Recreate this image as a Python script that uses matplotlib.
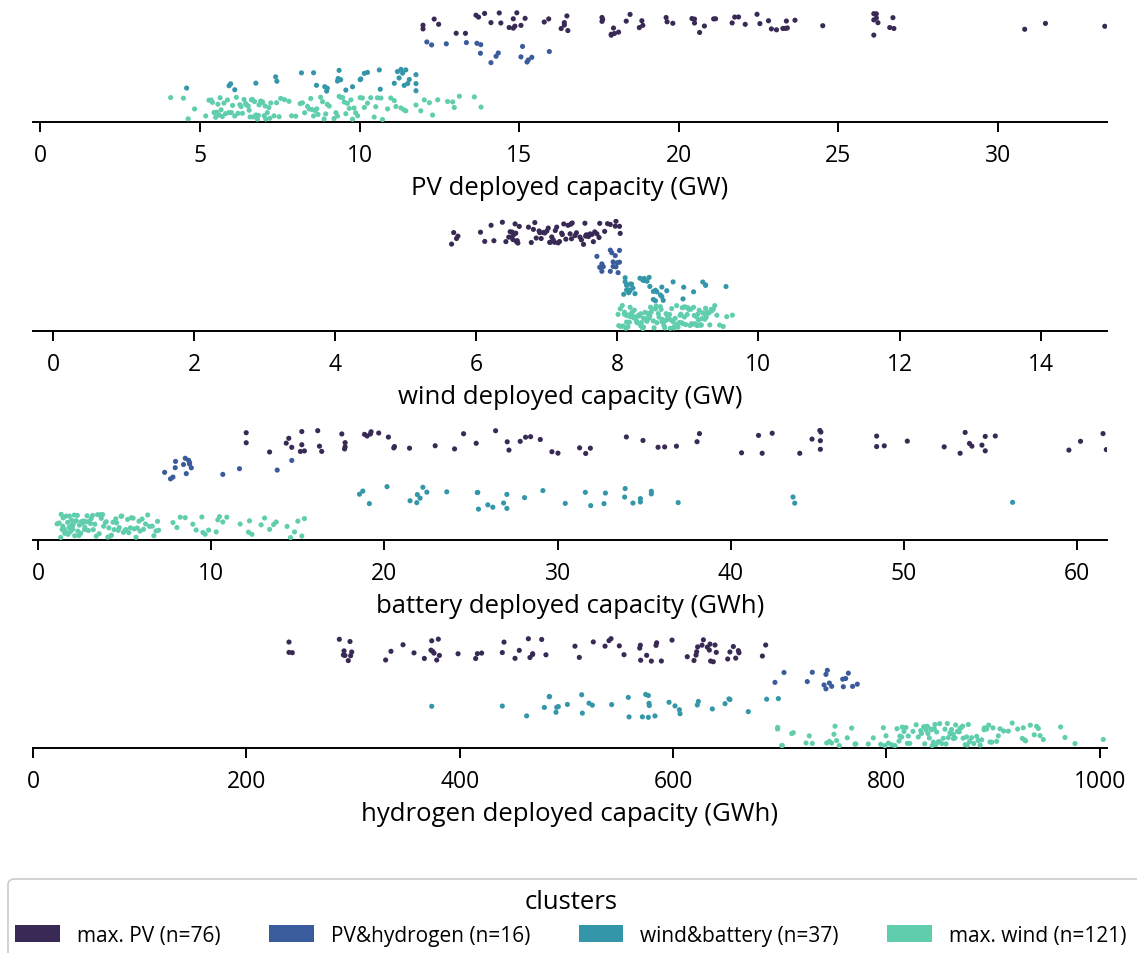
import numpy as np
import pandas as pd
import matplotlib
matplotlib.use("Agg")
import matplotlib.pyplot as plt
from matplotlib.patches import Patch, FancyBboxPatch
import seaborn as sns

# ---- cluster definitions ----
clusters = ["max. PV", "PV&hydrogen", "wind&battery", "max. wind"]
cluster_colors = ["#382a54", "#3b5c9c", "#3497a9", "#60ceac"]

# ---- PV deployed capacity (GW) ----
pv_max_pv = [11.99, 11.99, 12.34, 12.48, 13.03, 13.32, 13.65, 13.73, 13.92, 14.12,
             14.38, 14.43, 14.69, 14.82, 14.82, 14.87, 14.93, 15.06, 15.19, 15.79,
             15.93, 16.32, 16.42, 16.50, 16.42, 16.53, 17.62, 17.60, 17.60, 17.89,
             17.89, 17.96, 17.99, 18.12, 18.36, 18.48, 18.77, 18.88, 18.85, 19.61,
             19.64, 19.82, 20.42, 20.50, 20.50, 20.66, 20.81, 21.10, 21.16, 21.68,
             21.76, 21.88, 22.09, 22.46, 22.55, 22.82, 22.91, 23.07, 23.27, 23.35,
             23.38, 23.41, 23.65, 24.52, 26.12, 26.25, 26.12, 26.20, 26.12, 26.72,
             26.75, 26.62, 30.85, 31.50, 33.36, 26.20]
pv_pv_h2 = [12.11, 12.26, 12.72, 13.35, 13.68, 13.79, 13.80, 14.12, 14.28, 14.35,
            15.06, 15.11, 15.25, 15.29, 15.40, 15.95]
pv_wind_batt = [4.58, 5.91, 5.96, 6.09, 6.75, 7.37, 7.41, 8.18, 8.56, 8.65,
                8.91, 8.97, 8.99, 9.31, 9.36, 9.41, 9.57, 9.78, 10.02, 10.04,
                10.15, 10.25, 10.62, 10.65, 11.09, 11.19, 11.24, 11.30, 11.35, 11.40,
                11.51, 11.56, 11.77, 11.77, 11.77, 9.33, 11.45]
pv_max_wind = [4.08, 4.48, 4.63, 4.83, 5.18, 5.28, 5.39, 5.44, 5.49, 5.56,
               5.63, 5.70, 5.75, 5.80, 5.86, 5.98, 6.09, 6.19, 6.25, 6.33,
               6.38, 6.43, 6.51, 6.57, 6.61, 6.67, 6.75, 6.80, 6.85, 6.90,
               6.96, 7.01, 7.06, 7.11, 7.16, 7.22, 7.32, 7.48, 7.53, 7.79,
               7.87, 8.00, 8.14, 8.21, 8.37, 8.42, 8.47, 8.56, 8.66, 8.70,
               8.84, 8.89, 8.94, 8.99, 9.20, 9.26, 9.31, 9.41, 9.47, 9.57,
               9.62, 9.68, 9.73, 9.78, 9.83, 9.94, 10.09, 10.15, 10.35, 10.46,
               10.51, 10.56, 10.67, 10.88, 10.98, 11.09, 11.14, 11.30, 11.40, 11.45,
               11.77, 11.92, 12.03, 12.19, 12.29, 12.45, 12.76, 12.92, 12.97, 13.13,
               13.60, 13.81, 5.35, 5.52, 5.60, 5.66, 5.90, 6.02, 6.14, 6.29,
               6.46, 6.54, 6.64, 6.71, 6.83, 6.93, 7.04, 7.19, 7.40, 7.65,
               8.28, 8.51, 8.61, 8.78, 9.05, 9.36, 9.52, 9.88, 10.02, 10.25,
               10.72]

# ---- wind deployed capacity (GW) ----
wind_max_pv = [5.65, 5.68, 5.72, 5.74, 6.06, 6.12, 6.21, 6.25, 6.37, 6.42,
               6.46, 6.48, 6.50, 6.51, 6.52, 6.55, 6.56, 6.57, 6.59, 6.61,
               6.74, 6.78, 6.81, 6.83, 6.85, 6.89, 6.92, 6.95, 6.97, 7.00,
               7.02, 7.04, 7.07, 7.09, 7.11, 7.14, 7.16, 7.18, 7.21, 7.22,
               7.24, 7.27, 7.30, 7.33, 7.34, 7.36, 7.40, 7.42, 7.47, 7.49,
               7.52, 7.54, 7.55, 7.56, 7.59, 7.61, 7.64, 7.66, 7.68, 7.71,
               7.74, 7.75, 7.82, 7.86, 7.90, 7.98, 7.97, 8.03, 8.04, 6.53,
               6.58, 6.90, 7.05, 7.12, 7.35, 7.62]
wind_pv_h2 = [7.78, 7.97, 7.78, 7.75, 7.92, 7.94, 8.01, 8.03, 7.71, 7.80,
              7.90, 7.98, 8.00, 7.94, 8.03, 7.90]
wind_wind_batt = [8.13, 8.18, 8.38, 8.54, 8.63, 8.65, 8.51, 8.38, 8.32, 8.36,
                  8.11, 8.09, 8.13, 8.16, 8.22, 8.45, 8.46, 8.54, 8.63, 8.70,
                  8.79, 8.93, 8.94, 9.08, 9.21, 9.25, 9.25, 9.54, 8.11, 8.16,
                  8.42, 8.51, 8.56, 8.25, 8.20, 8.18, 8.61]
wind_max_wind = [8.01, 8.04, 8.05, 8.07, 8.08, 8.10, 8.10, 8.12, 8.13, 8.13,
                 8.15, 8.15, 8.17, 8.18, 8.18, 8.20, 8.21, 8.21, 8.23, 8.24,
                 8.25, 8.25, 8.27, 8.28, 8.28, 8.30, 8.31, 8.33, 8.33, 8.34,
                 8.36, 8.37, 8.37, 8.39, 8.40, 8.42, 8.43, 8.43, 8.46, 8.47,
                 8.48, 8.49, 8.51, 8.52, 8.54, 8.55, 8.56, 8.58, 8.59, 8.61,
                 8.62, 8.63, 8.64, 8.66, 8.67, 8.69, 8.70, 8.71, 8.72, 8.74,
                 8.75, 8.76, 8.77, 8.79, 8.80, 8.81, 8.82, 8.84, 8.85, 8.86,
                 8.88, 8.89, 8.90, 8.91, 8.92, 8.93, 8.95, 8.96, 8.97, 8.99,
                 9.00, 9.01, 9.03, 9.04, 9.05, 9.07, 9.08, 9.09, 9.10, 9.12,
                 9.13, 9.14, 9.15, 9.16, 9.18, 9.19, 9.20, 9.21, 9.23, 9.24,
                 9.25, 9.26, 9.27, 9.28, 9.30, 9.31, 9.33, 9.34, 9.36, 9.38,
                 9.41, 9.45, 9.50, 9.55, 9.63, 8.02, 8.26, 8.45, 8.68, 8.94,
                 9.17]

# ---- battery deployed capacity (GWh) ----
batt_max_pv = [12.02, 12.02, 13.37, 14.33, 14.48, 14.65, 15.15, 15.23, 15.23, 15.38,
               16.15, 16.25, 16.38, 17.54, 17.73, 17.73, 18.85, 19.00, 19.23, 19.19,
               19.67, 20.23, 20.54, 20.58, 21.45, 22.93, 24.05, 24.57, 25.30, 26.42,
               27.09, 27.19, 27.84, 28.15, 28.44, 29.00, 29.67, 30.02, 31.27, 31.62,
               31.89, 33.97, 34.93, 35.80, 36.18, 36.86, 38.05, 38.19, 40.62, 41.60,
               41.81, 42.39, 43.98, 44.69, 45.17, 45.14, 45.17, 48.42, 48.42, 48.86,
               50.19, 52.32, 53.24, 53.53, 53.78, 53.92, 54.50, 54.69, 54.69, 55.27,
               59.52, 60.19, 61.49, 61.68, 45.20, 17.70]
batt_pv_h2 = [7.31, 7.65, 7.79, 7.92, 7.94, 8.40, 8.50, 8.56, 8.69, 8.75,
              8.75, 8.85, 10.67, 11.63, 13.81, 14.65]
batt_wind_batt = [18.56, 18.75, 19.13, 20.15, 21.48, 21.87, 22.06, 22.22, 22.45, 23.60,
                  25.36, 25.39, 25.43, 25.97, 26.26, 26.88, 27.07, 27.07, 28.09, 29.15,
                  30.44, 31.60, 31.91, 32.68, 32.76, 33.87, 34.35, 34.78, 34.78, 35.41,
                  35.41, 36.96, 43.59, 43.69, 56.27, 21.90, 33.90]
batt_max_wind = [6.96, 7.79, 8.02, 8.21, 8.50, 8.94, 9.13, 9.46, 9.52, 9.65,
                 9.85, 10.29, 10.38, 10.48, 10.67, 10.90, 11.67, 12.15, 12.21, 12.35,
                 12.88, 13.08, 13.37, 13.60, 13.75, 14.38, 14.58, 14.81, 15.00, 15.23,
                 15.38, 1.10, 1.22, 1.31, 1.34, 1.39, 1.43, 1.45, 1.51, 1.54,
                 1.59, 1.63, 1.65, 1.71, 1.73, 1.79, 1.81, 1.87, 1.90, 1.96,
                 2.01, 2.03, 2.09, 2.12, 2.18, 2.21, 2.27, 2.30, 2.36, 2.39,
                 2.46, 2.49, 2.56, 2.59, 2.67, 2.71, 2.79, 2.83, 2.91, 2.95,
                 3.03, 3.07, 3.15, 3.19, 3.28, 3.36, 3.44, 3.53, 3.61, 3.65,
                 3.73, 3.79, 3.89, 3.94, 4.03, 4.09, 4.19, 4.24, 4.33, 4.39,
                 4.49, 4.54, 4.63, 4.69, 4.79, 4.84, 4.93, 5.01, 5.07, 5.17,
                 5.24, 5.33, 5.39, 5.49, 5.55, 5.66, 5.73, 5.83, 5.89, 6.01,
                 6.09, 6.21, 6.33, 6.44, 6.59, 6.69, 6.81, 6.90, 1.48, 1.93,
                 2.68]

# ---- hydrogen deployed capacity (GWh) ----
h2_max_pv = [240.0, 243.1, 240.0, 291.0, 291.6, 297.8, 287.2, 292.5, 295.6, 298.8,
             297.2, 330.6, 335.6, 346.9, 357.2, 366.9, 373.8, 374.7, 376.0, 378.5,
             380.0, 373.1, 381.0, 398.5, 415.0, 416.6, 420.6, 440.0, 441.6, 451.9,
             455.9, 464.4, 465.9, 468.4, 468.4, 476.9, 480.9, 508.1, 512.2, 525.3,
             536.3, 540.0, 541.9, 549.7, 554.1, 568.8, 569.4, 569.7, 575.3, 579.7,
             584.1, 584.7, 589.1, 599.1, 613.4, 619.7, 621.6, 622.2, 623.1, 627.2,
             628.5, 632.2, 634.1, 634.7, 635.3, 637.8, 639.4, 640.6, 651.3, 653.4,
             656.6, 658.8, 661.3, 661.9, 683.8, 686.9]
h2_pv_h2 = [695.6, 704.1, 725.9, 730.6, 741.6, 743.4, 743.4, 744.7, 746.6, 748.8,
            759.7, 761.9, 759.1, 764.4, 768.4, 772.8]
h2_wind_batt = [373.8, 440.0, 462.8, 479.4, 484.1, 484.1, 490.3, 492.5, 491.0, 501.0,
                514.4, 515.0, 521.3, 524.4, 542.5, 558.1, 558.8, 571.3, 574.4, 576.9,
                577.5, 576.9, 577.8, 583.1, 596.3, 601.9, 606.6, 606.0, 623.8, 622.8,
                636.9, 648.8, 652.5, 653.4, 670.6, 687.8, 698.8]
h2_max_wind = [698.1, 701.9, 702.5, 711.3, 698.1, 712.8, 724.7, 727.8, 730.6, 744.1,
               746.6, 748.7, 750.9, 751.9, 753.4, 755.9, 763.4, 767.5, 770.6, 771.5,
               783.1, 787.8, 794.7, 797.2, 799.7, 798.7, 808.1, 811.9, 812.8, 814.4,
               816.6, 818.4, 819.7, 820.6, 832.2, 837.2, 838.4, 837.2, 840.3, 841.6,
               842.5, 844.1, 845.6, 846.6, 847.2, 848.8, 849.7, 853.4, 857.2, 858.1,
               859.7, 861.2, 862.8, 864.4, 866.6, 868.4, 870.6, 871.5, 875.3, 875.9,
               876.9, 880.0, 884.7, 889.4, 891.6, 893.1, 894.1, 897.2, 898.8, 903.4,
               906.6, 914.4, 923.1, 927.5, 928.4, 929.4, 930.6, 938.7, 940.9, 942.5,
               944.1, 947.2, 963.4, 967.5, 976.9, 1003.4, 802.0, 805.0, 810.0, 815.0,
               822.0, 825.0, 828.0, 830.0, 833.0, 835.0, 836.0, 839.0, 843.0, 845.0,
               850.0, 852.0, 855.0, 856.0, 860.0, 863.0, 865.0, 869.0, 872.0, 874.0,
               878.0, 882.0, 886.0, 888.0, 892.0, 896.0, 900.0, 905.0, 910.0, 918.0,
               935.0]

panels = [
    ("PV deployed capacity (GW)", [pv_max_pv, pv_pv_h2, pv_wind_batt, pv_max_wind],
     (-0.235, 33.43), [0, 5, 10, 15, 20, 25, 30]),
    ("wind deployed capacity (GW)", [wind_max_pv, wind_pv_h2, wind_wind_batt, wind_max_wind],
     (-0.283, 14.94), [0, 2, 4, 6, 8, 10, 12, 14]),
    ("battery deployed capacity (GWh)", [batt_max_pv, batt_pv_h2, batt_wind_batt, batt_max_wind],
     (-0.29, 61.72), [0, 10, 20, 30, 40, 50, 60]),
    ("hydrogen deployed capacity (GWh)", [h2_max_pv, h2_pv_h2, h2_wind_batt, h2_max_wind],
     (0.0, 1006.9), [0, 200, 400, 600, 800, 1000]),
]

plt.rcParams["font.family"] = ["Open Sans", "DejaVu Sans"]

W, H = 1137, 954
fig = plt.figure(figsize=(W / 100, H / 100), dpi=100)
np.random.seed(3)

ax_left, ax_width, ax_height = 33 / W, 1074 / W, 112 / H
bottoms = [1 - 123 / H, 1 - 332 / H, 1 - 541 / H, 1 - 749 / H]

for (label, groups, xlim, ticks), bottom in zip(panels, bottoms):
    ax = fig.add_axes([ax_left, bottom, ax_width, ax_height])
    df = pd.DataFrame({
        "cluster": np.repeat(clusters, [len(g) for g in groups]),
        "value": np.concatenate(groups),
    })
    sns.stripplot(data=df, x="value", y="cluster", hue="cluster", order=clusters,
                  hue_order=clusters, palette=cluster_colors, jitter=0.42,
                  size=3.7, linewidth=0, legend=False, ax=ax)
    ax.set_xlim(*xlim)
    ax.set_ylim(3.5, -0.5)
    ax.set_xticks(ticks)
    ax.set_yticks([])
    ax.set_ylabel("")
    ax.set_xlabel(label, fontsize=18.5, labelpad=6)
    ax.tick_params(axis="x", labelsize=16.5, length=7, width=1.4, pad=8)
    for side in ("left", "top", "right"):
        ax.spines[side].set_visible(False)
    ax.spines["bottom"].set_linewidth(1.4)

# legend box: a rounded frame running off the right and bottom edges of the figure
frame = FancyBboxPatch((8 / W, -20 / H), 1160 / W, (H - 880 + 20) / H,
                       boxstyle="round,pad=0,rounding_size=0.006",
                       transform=fig.transFigure, facecolor="white",
                       edgecolor="#cccccc", linewidth=1.2, zorder=0)
fig.patches.append(frame)

handles = [Patch(facecolor=c, label=f"{name} (n={n})")
           for c, name, n in zip(cluster_colors, clusters,
                                 [len(pv_max_pv), len(pv_pv_h2), len(pv_wind_batt), len(pv_max_wind)])]
fig.legend(handles=handles, title="clusters", ncol=4, loc="upper left",
           bbox_to_anchor=(8 / W, 1 - 883 / H - 0.09, 0.99, 0.09), mode="expand",
           fontsize=15, title_fontsize=18.5, handlelength=2.15, handleheight=0.85,
           frameon=False, borderaxespad=0, borderpad=0.35)

fig.savefig("out.png", dpi=100)
